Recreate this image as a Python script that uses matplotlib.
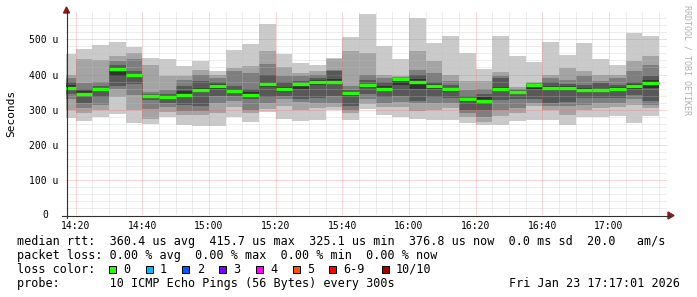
import matplotlib.pyplot as plt
from matplotlib.patches import Polygon, Rectangle
from matplotlib.lines import Line2D

plt.rcParams["lines.scale_dashes"] = False

W, H = 697, 297

# ten sorted ping rtts (us) per 5 minute step, p1 = fastest, p10 = slowest
p1 = [276, 269, 279, 289, 262, 260, 279, 257, 254, 254, 279, 264, 292, 273, 267, 270, 300, 270,
      302, 285, 279, 273, 271, 270, 262, 257, 257, 267, 270, 270, 257, 279, 280, 283, 261, 283]
p2 = [300, 290, 300, 336, 300, 272, 292, 286, 285, 290, 308, 290, 302, 310, 300, 305, 307, 290,
      315, 308, 308, 295, 300, 305, 280, 265, 281, 290, 310, 300, 286, 300, 305, 308, 314, 305]
p3 = [330, 305, 313, 360, 343, 302, 307, 295, 295, 320, 325, 300, 320, 330, 322, 320, 320, 300,
      330, 318, 322, 318, 318, 320, 290, 278, 300, 305, 320, 310, 310, 314, 319, 320, 329, 314]
p4 = [345, 320, 335, 368, 372, 328, 318, 312, 310, 340, 338, 330, 335, 340, 330, 333, 338, 310,
      345, 335, 340, 325, 335, 333, 300, 300, 328, 330, 330, 320, 323, 333, 333, 333, 343, 324]
p5 = [355, 340, 352, 395, 392, 334, 330, 335, 350, 360, 348, 338, 365, 350, 360, 370, 372, 340,
      362, 352, 370, 360, 358, 350, 322, 318, 352, 345, 360, 355, 355, 350, 350, 352, 360, 362]
p6 = [370, 352, 362, 420, 402, 342, 340, 352, 362, 372, 360, 350, 378, 365, 376, 383, 386, 350,
      374, 366, 389, 386, 372, 363, 333, 335, 365, 352, 372, 366, 368, 362, 360, 364, 372, 384]
p7 = [380, 360, 368, 428, 410, 345, 345, 367, 381, 378, 368, 360, 400, 378, 381, 390, 410, 355,
      385, 378, 390, 400, 380, 371, 340, 345, 390, 355, 374, 378, 372, 371, 376, 370, 380, 397]
p8 = [390, 376, 378, 438, 443, 350, 355, 383, 398, 390, 410, 405, 431, 395, 395, 400, 414, 368,
      400, 390, 392, 414, 403, 381, 355, 360, 397, 360, 376, 390, 384, 395, 381, 390, 410, 426]
p9 = [400, 445, 441, 452, 462, 426, 395, 397, 414, 398, 419, 424, 467, 422, 405, 410, 443, 467,
      462, 398, 395, 467, 438, 400, 381, 381, 407, 365, 380, 400, 419, 410, 400, 400, 438, 452]
p10 = [457, 473, 483, 492, 478, 446, 443, 423, 438, 410, 471, 486, 543, 457, 433, 426, 448, 507,
       571, 481, 443, 562, 490, 511, 462, 416, 510, 452, 435, 492, 455, 489, 445, 426, 517, 511]
median = [362, 345, 360, 415.7, 399, 340, 336, 343, 357, 367, 352, 343, 374, 359, 373, 380, 380, 346,
          370, 359, 388, 380, 367, 359, 330, 325.1, 360, 350, 369, 362, 363, 357, 355, 359, 367, 376.8]

first_bar = 14 * 60 + 15   # minutes after midnight
step = 5
x_labels = ["14:20", "14:40", "15:00", "15:20", "15:40", "16:00", "16:20", "16:40", "17:00"]
y_values = [100, 200, 300, 400, 500]

smoke_colors = ["#cacaca", "#a4a4a4", "#7e7e7e", "#585858", "#323232"]
loss_labels = ["0", "1", "2", "3", "4", "5", "6-9", "10/10"]
loss_colors = ["#26ff00", "#00b8ff", "#0059ff", "#7e00ff", "#ff00ff", "#ff5500", "#ff0000", "#a10000"]

mono = "DejaVu Sans Mono"


def fx(x):
    return x / W


def fy(y):
    return 1 - y / H


fig = plt.figure(figsize=(W / 100, H / 100), dpi=100)
fig.patch.set_facecolor("white")
ax = fig.add_axes([fx(66), fy(215), (667 - 66) / W, (215 - 12) / H])

starts = [first_bar + step * i for i in range(len(median))]
pairs = [(p1, p10), (p2, p9), (p3, p8), (p4, p7), (p5, p6)]
for (lo, hi), c in zip(pairs, smoke_colors):
    ax.bar(starts, [h - l for l, h in zip(lo, hi)], bottom=lo, width=step, align="edge",
           color=c, linewidth=0, zorder=1)

ax.step(starts + [starts[-1] + step], median + [median[-1]], where="post", color="#202020",
        lw=0.72, ls=(0, (0.72, 0.72)), zorder=1.5)
ax.hlines(median, starts, [s + step for s in starts], color="#26ff00", lw=2.4, zorder=3)

ax.set_xlim(860 - 2.9, 860 + 177.4)
ax.set_ylim(0, 578)

major_x = [860 + 20 * i for i in range(len(x_labels))]
ax.set_xticks(major_x)
ax.set_xticklabels(x_labels, fontfamily=mono, fontsize=7)
ax.set_xticks([860 + 5 * i for i in range(36) if i % 4], minor=True)
ax.set_yticks(y_values)
ax.set_yticklabels([f"{v} u" for v in y_values], fontfamily=mono, fontsize=7)
ax.set_yticks([v for v in range(20, 578, 20) if v % 100], minor=True)
ax.tick_params(which="both", length=0)
ax.tick_params(axis="x", pad=4.3)
ax.tick_params(axis="y", pad=5.5)

ax.grid(which="minor", color="#c0c0c0", alpha=0.55, lw=0.72, ls=(0, (0.72, 0.72)))
ax.grid(which="major", color="#ff5f5f", alpha=0.5, lw=0.72, ls=(0, (0.72, 0.72)))
ax.set_axisbelow(False)
for s in ax.spines.values():
    s.set_visible(False)

fig.text(fx(48.5), fy(215), "0", fontfamily=mono, fontsize=7, ha="right", va="center")
fig.text(fx(11), fy(113.5), "Seconds", fontfamily=mono, fontsize=8, rotation=90,
         ha="center", va="center")
fig.text(fx(687), fy(5), "RRDTOOL / TOBI OETIKER", fontfamily=mono, fontsize=6,
         color="#b0b0b0", rotation=270, ha="center", va="top")

# axis lines with arrows
fig.add_artist(Line2D([fx(66.5), fx(66.5)], [fy(218), fy(10)], color="#303030", lw=0.8))
fig.add_artist(Line2D([fx(62), fx(670)], [fy(215.5), fy(215.5)], color="#303030", lw=0.8))
fig.add_artist(Polygon([(fx(63.5), fy(13)), (fx(69.5), fy(13)), (fx(66.5), fy(7))],
                       closed=True, transform=fig.transFigure, color="#8c1c1c"))
fig.add_artist(Polygon([(fx(668), fy(212)), (fx(668), fy(219)), (fx(674), fy(215.5))],
                       closed=True, transform=fig.transFigure, color="#8c1c1c"))

# legend
lines = [
    "median rtt:  360.4 us avg  415.7 us max  325.1 us min  376.8 us now  0.0 ms sd  20.0   am/s",
    "packet loss: 0.00 % avg  0.00 % max  0.00 % min  0.00 % now",
    "loss color:",
    "probe:       10 ICMP Echo Pings (56 Bytes) every 300s",
]
for i, txt in enumerate(lines):
    fig.text(fx(16.7), fy(245.5 + 13.75 * i), txt, fontfamily=mono, fontsize=8.5,
             ha="left", va="baseline")
fig.text(fx(680), fy(245.5 + 13.75 * 3), "Fri Jan 23 17:17:01 2026", fontfamily=mono,
         fontsize=8.5, ha="right", va="baseline")

sq_x = [109 + 36.7 * i for i in range(7)] + [381.7]
for x, lab, c in zip(sq_x, loss_labels, loss_colors):
    fig.add_artist(Rectangle((fx(x), fy(272.5)), 7 / W, 7 / H, transform=fig.transFigure,
                             facecolor=c, edgecolor="black", lw=0.72))
    fig.text(fx(x + 14.3), fy(245.5 + 13.75 * 2), lab, fontfamily=mono, fontsize=8.5,
             ha="left", va="baseline")

fig.savefig("out.png", dpi=100)
